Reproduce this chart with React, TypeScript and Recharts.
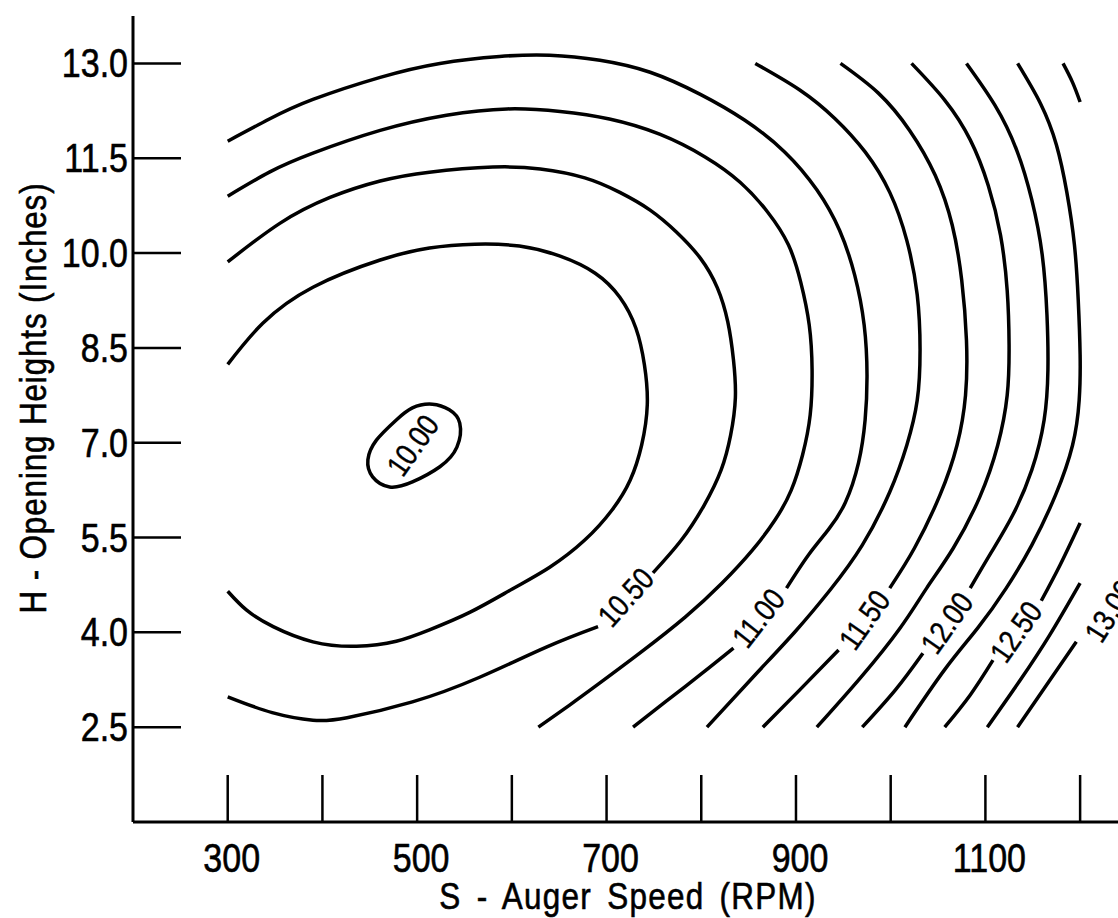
import React from "react";
import { ComposedChart, Line, Scatter, XAxis, YAxis } from "recharts";

const FONT = "'Liberation Sans', Arial, sans-serif";
const NARROW = 0.85;

// axes
const speedTicks = [300, 400, 500, 600, 700, 800, 900, 1000, 1100, 1200];
const speedLabels = [300, 500, 700, 900, 1100];
const heightTicks = [2.5, 4.0, 5.5, 7.0, 8.5, 10.0, 11.5, 13.0];

// contour lines, [speed (RPM), height (in)]
const c1000 = [
  [478, 7.36], [495, 7.55], [516, 7.61], [534, 7.52], [545, 7.31], [542, 6.93],
  [524, 6.62], [495, 6.38], [471, 6.3], [453, 6.46], [448, 6.73], [457, 7.04],
  [478, 7.36],
];
const c1025 = [
  [300, 8.24], [337, 8.89], [390, 9.46], [461, 9.89], [513, 10.08], [561, 10.14],
  [608, 10.11], [651, 9.95], [688, 9.68], [714, 9.3], [731, 8.81], [740, 8.23],
  [743, 7.6], [737, 6.96], [725, 6.41], [706, 5.94], [677, 5.46], [640, 5.03],
  [601, 4.69], [556, 4.32], [513, 4.04], [478, 3.86], [436, 3.78], [390, 3.85],
  [348, 4.09], [320, 4.35], [300, 4.65],
];
const c1050Upper = [
  [300, 9.86], [355, 10.47], [408, 10.88], [461, 11.14], [513, 11.28], [580, 11.36],
  [630, 11.33], [677, 11.19], [714, 10.96], [746, 10.68], [774, 10.33], [799, 9.92],
  [817, 9.45], [828, 8.91], [834, 8.31], [836, 7.71], [831, 7.12], [821, 6.57],
  [803, 6.01], [779, 5.46], [749, 4.94],
];
const c1050Lower = [
  [691, 4.09], [637, 3.77], [566, 3.29], [495, 2.9], [426, 2.65], [390, 2.61],
  [347, 2.73], [300, 2.98],
];
const c1075 = [
  [300, 10.9], [344, 11.28], [390, 11.58], [461, 11.94], [531, 12.18], [595, 12.28],
  [651, 12.24], [703, 12.12], [756, 11.88], [804, 11.52], [841, 11.12], [870, 10.65],
  [892, 10.13], [905, 9.54], [914, 8.86], [917, 8.15], [915, 7.44], [907, 6.81],
  [895, 6.25], [878, 5.78], [854, 5.3], [822, 4.78], [783, 4.24], [735, 3.67],
  [693, 3.2], [661, 2.85], [628, 2.5],
];
const c1100Upper = [
  [300, 11.77], [344, 12.12], [390, 12.43], [461, 12.78], [524, 13.0], [587, 13.11],
  [640, 13.13], [693, 13.05], [746, 12.86], [799, 12.51], [846, 12.1], [888, 11.6],
  [922, 11.0], [946, 10.36], [962, 9.65], [972, 8.86], [975, 8.07], [973, 7.36],
  [966, 6.68], [952, 6.05], [934, 5.62], [913, 5.22], [890, 4.7],
];
const c1100Lower = [[834, 3.75], [799, 3.33], [762, 2.9], [728, 2.5]];
const c1125 = [
  [857, 13.0], [904, 12.58], [941, 12.13], [973, 11.6], [999, 10.96], [1017, 10.2],
  [1028, 9.34], [1031, 8.47], [1028, 7.67], [1017, 6.96], [999, 6.22], [970, 5.38],
  [936, 4.67], [899, 4.01], [857, 3.33], [806, 2.5],
];
const c1150Upper = [
  [947, 13.0], [987, 12.53], [1020, 11.94], [1047, 11.23], [1065, 10.44], [1075, 9.57],
  [1080, 8.62], [1079, 7.75], [1070, 6.96], [1052, 6.17], [1025, 5.33], [999, 4.7],
];
const c1150Lower = [[945, 3.72], [904, 3.09], [865, 2.5]];
const c1175 = [
  [1022, 13.0], [1057, 12.42], [1084, 11.79], [1103, 11.07], [1116, 10.28], [1123, 9.41],
  [1125, 8.54], [1123, 7.75], [1113, 6.96], [1094, 6.14], [1066, 5.33], [1038, 4.7],
  [1010, 4.07], [968, 3.28], [922, 2.5],
];
const c1200Upper = [
  [1080, 13.0], [1110, 12.34], [1133, 11.63], [1149, 10.84], [1160, 9.97], [1165, 9.02],
  [1166, 8.15], [1162, 7.36], [1149, 6.57], [1129, 5.86], [1106, 5.26], [1084, 4.7],
];
const c1200Lower = [[1034, 3.67], [1005, 3.09], [970, 2.5]];
const c1225 = [
  [1134, 13.0], [1158, 12.37], [1175, 11.71], [1186, 10.96], [1194, 10.13], [1198, 9.26],
  [1200, 8.39], [1199, 7.67], [1192, 6.96], [1174, 6.17], [1149, 5.38], [1122, 4.7],
  [1092, 4.07], [1057, 3.41], [1015, 2.5],
];
const c1250Corner = [[1182, 13.0], [1192, 12.7], [1200, 12.39]];
const c1250Upper = [[1200, 5.73], [1179, 5.07], [1159, 4.5]];
const c1250Lower = [[1108, 3.56], [1084, 3.01], [1057, 2.5]];
const c1275 = [[1200, 4.78], [1168, 3.96], [1137, 3.25], [1102, 2.5]];
const c1300 = [[1196, 3.85], [1166, 3.2], [1134, 2.5]];

const contours = [
  c1000, c1025, c1050Upper, c1050Lower, c1075, c1100Upper, c1100Lower, c1125,
  c1150Upper, c1150Lower, c1175, c1200Upper, c1200Lower, c1225, c1250Corner,
  c1250Upper, c1250Lower, c1275, c1300,
];

// contour labels
const labelText = ["10.00", "10.50", "11.00", "11.50", "12.00", "12.50", "13.00"];
const labelSpeed = [495, 720, 860, 972, 1059, 1132, 1231];
const labelHeight = [6.96, 4.56, 4.23, 4.2, 4.15, 4.01, 4.34];
const labelAngle = [-55, -48, -52, -55, -55, -55, -58];

const labels = labelText.map((t, i) => ({
  s: labelSpeed[i],
  h: labelHeight[i],
  t,
  a: labelAngle[i],
}));

const toPoints = (arr: number[][]) => arr.map(([s, h]) => ({ s, h }));

const textStyle = {
  fontFamily: FONT,
  fill: "#000",
  stroke: "#000",
  strokeWidth: 0.6,
};

const YTick = ({ x, y, payload }: any) => (
  <g>
    <line x1={x} x2={x + 48} y1={y} y2={y} stroke="#000" strokeWidth={2.5} />
    <text
      transform={`translate(${x - 5} ${y + 14}) scale(${NARROW} 1)`}
      textAnchor="end"
      fontSize={40}
      {...textStyle}
    >
      {Number(payload.value).toFixed(1)}
    </text>
  </g>
);

const XTick = ({ x, y, payload }: any) => (
  <g>
    <line x1={x} x2={x} y1={y - 47} y2={y} stroke="#000" strokeWidth={2.5} />
    {speedLabels.includes(payload.value) && (
      <text
        transform={`translate(${x + 4} ${y + 50}) scale(${NARROW} 1)`}
        textAnchor="middle"
        fontSize={40}
        {...textStyle}
      >
        {payload.value}
      </text>
    )}
  </g>
);

const LabelShape = (props: any) => {
  const { cx, cy, payload } = props;
  return (
    <text
      dy="0.36em"
      textAnchor="middle"
      fontSize={31}
      {...textStyle}
      strokeWidth={0.4}
      transform={`translate(${cx} ${cy}) rotate(${payload.a}) scale(${NARROW} 1)`}
    >
      {payload.t}
    </text>
  );
};

const XTitle = () => (
  <text
    transform={`translate(628 909) scale(${NARROW} 1)`}
    textAnchor="middle"
    fontSize={37}
    letterSpacing={1.5}
    wordSpacing={6}
    {...textStyle}
  >
    S - Auger Speed (RPM)
  </text>
);

const YTitle = () => (
  <text
    transform={`translate(46 398) rotate(-90) scale(${NARROW} 1)`}
    textAnchor="middle"
    fontSize={37}
    letterSpacing={1}
    {...textStyle}
  >
    H - Opening Heights (Inches)
  </text>
);

export default function App() {
  return (
    <div style={{ position: "absolute", left: 0, top: 0, background: "#fff" }}>
      <ComposedChart width={1118} height={918} margin={{ top: 16, right: 0, bottom: 8, left: 8 }}>
        <XAxis
          dataKey="s"
          type="number"
          domain={[200, 1240]}
          ticks={speedTicks}
          interval={0}
          tickSize={0}
          tickMargin={0}
          height={88}
          axisLine={{ stroke: "#000", strokeWidth: 3 }}
          tickLine={false}
          tick={<XTick />}
          label={<XTitle />}
        />
        <YAxis
          dataKey="h"
          type="number"
          domain={[1, 13.75]}
          ticks={heightTicks}
          interval={0}
          tickSize={0}
          tickMargin={0}
          width={125}
          axisLine={{ stroke: "#000", strokeWidth: 3 }}
          tickLine={false}
          tick={<YTick />}
          label={<YTitle />}
        />
        {contours.map((c, i) => (
          <Line
            key={i}
            data={toPoints(c)}
            dataKey="h"
            type="natural"
            stroke="#000"
            strokeWidth={3.5}
            dot={false}
            activeDot={false}
            isAnimationActive={false}
          />
        ))}
        <Scatter data={labels} dataKey="h" shape={<LabelShape />} isAnimationActive={false} />
      </ComposedChart>
    </div>
  );
}
